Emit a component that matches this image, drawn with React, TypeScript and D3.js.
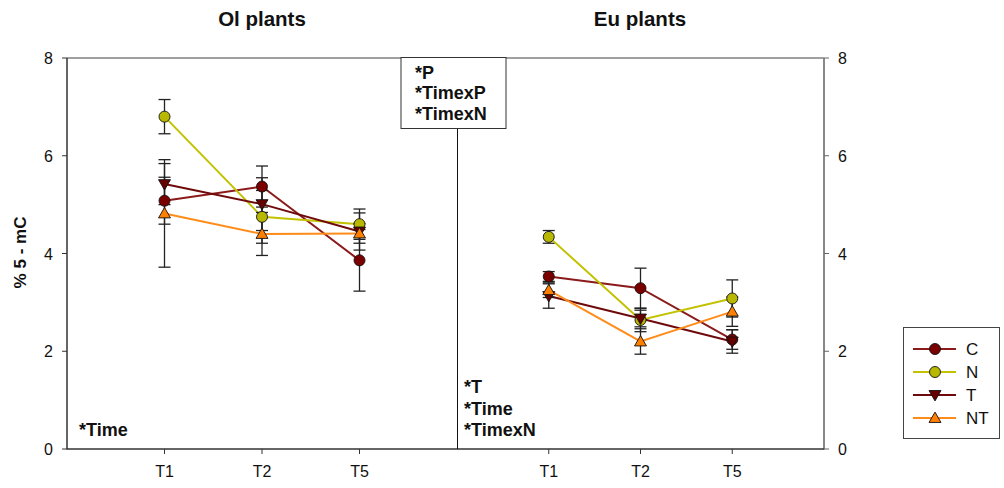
import React from "react";
import * as d3 from "d3";

const categories = ["T1", "T2", "T5"];
const seriesNames = ["C", "N", "T", "NT"];

// Ol plants
const olC = [5.08, 5.37, 3.86];
const olCErr = [0.48, 0.42, 0.63];
const olN = [6.8, 4.75, 4.6];
const olNErr = [0.35, 0.54, 0.31];
const olT = [5.42, 5.01, 4.45];
const olTErr = [0.42, 0.54, 0.38];
const olNT = [4.82, 4.4, 4.41];
const olNTErr = [1.1, 0.44, 0.2];

// Eu plants
const euC = [3.53, 3.29, 2.24];
const euCErr = [0.1, 0.41, 0.2];
const euN = [4.34, 2.64, 3.08];
const euNErr = [0.13, 0.24, 0.38];
const euT = [3.13, 2.67, 2.2];
const euTErr = [0.25, 0.17, 0.24];
const euNT = [3.25, 2.2, 2.81];
const euNTErr = [0.15, 0.26, 0.3];

const yTicks = [0, 2, 4, 6, 8];
const olAnnot = ["*Time"];
const euAnnot = ["*T", "*Time", "*TimexN"];
const boxAnnot = ["*P", "*TimexP", "*TimexN"];

const styles: Record<string, { fill: string; line: string; shape: string }> = {
  C: { fill: "#7a0000", line: "#8b1a1a", shape: "circle" },
  N: { fill: "#b8b800", line: "#c2c200", shape: "circle" },
  T: { fill: "#680000", line: "#6e0a0a", shape: "down" },
  NT: { fill: "#ff8000", line: "#ff8c1a", shape: "up" },
};

const FONT = "'Liberation Sans', Arial, sans-serif";

const y = d3.scaleLinear().domain([0, 8]).range([449, 58]);
const xL = d3.scaleLinear().domain([0, 4]).range([67, 457]);
const xR = d3.scaleLinear().domain([0, 4]).range([457, 824]);

function Marker({ cx, cy, shape, fill }: { cx: number; cy: number; shape: string; fill: string }) {
  if (shape === "circle") {
    return <circle cx={cx} cy={cy} r={5.5} fill={fill} stroke="#111" strokeWidth={0.9} />;
  }
  const p = d3.symbol().type(d3.symbolTriangle).size(62)()!;
  const rot = shape === "down" ? 180 : 0;
  return (
    <path d={p} transform={`translate(${cx},${cy + (shape === "down" ? -1 : 1)}) rotate(${rot})`} fill={fill} stroke="#111" strokeWidth={0.9} />
  );
}

function Panel({ x, data }: { x: d3.ScaleLinear<number, number>; data: Record<string, [number[], number[]]> }) {
  const pos = (i: number) => x(i + 1);
  const line = d3
    .line<number>()
    .x((_, i) => pos(i))
    .y((v) => y(v));
  return (
    <g>
      {seriesNames.map((s) => {
        const [vals, errs] = data[s];
        const st = styles[s];
        return (
          <g key={s}>
            {vals.map((v, i) => {
              const cx = pos(i);
              const t = y(v + errs[i]);
              const b = y(v - errs[i]);
              return (
                <g key={i} stroke="#222" strokeWidth={1.3}>
                  <line x1={cx} x2={cx} y1={t} y2={b} />
                  <line x1={cx - 6} x2={cx + 6} y1={t} y2={t} />
                  <line x1={cx - 6} x2={cx + 6} y1={b} y2={b} />
                </g>
              );
            })}
            <path d={line(vals)!} fill="none" stroke={st.line} strokeWidth={2} />
          </g>
        );
      })}
      {seriesNames.map((s) => {
        const [vals] = data[s];
        const st = styles[s];
        return (
          <g key={s + "m"}>
            {vals.map((v, i) => (
              <Marker key={i} cx={pos(i)} cy={y(v)} shape={st.shape} fill={st.fill} />
            ))}
          </g>
        );
      })}
      {categories.map((c, i) => (
        <g key={c}>
          <line x1={pos(i)} x2={pos(i)} y1={449} y2={454} stroke="#333" strokeWidth={1} />
          <text x={pos(i)} y={477} textAnchor="middle" fontSize={16} fill="#111">
            {c}
          </text>
        </g>
      ))}
    </g>
  );
}

export default function App() {
  const olData: Record<string, [number[], number[]]> = {
    C: [olC, olCErr],
    N: [olN, olNErr],
    T: [olT, olTErr],
    NT: [olNT, olNTErr],
  };
  const euData: Record<string, [number[], number[]]> = {
    C: [euC, euCErr],
    N: [euN, euNErr],
    T: [euT, euTErr],
    NT: [euNT, euNTErr],
  };
  const legendY = d3.scaleLinear().domain([0, 3]).range([349, 418]);
  return (
    <svg
      width={1004}
      height={488}
      style={{ position: "absolute", left: 0, top: 0, background: "#fff" }}
      fontFamily={FONT}
    >
      <rect width={1004} height={488} fill="#fff" />
      {/* titles */}
      <text x={262} y={26} textAnchor="middle" fontSize={20.5} fontWeight="bold" fill="#111">
        Ol plants
      </text>
      <text x={640} y={26} textAnchor="middle" fontSize={20.5} fontWeight="bold" fill="#111">
        Eu plants
      </text>

      {/* frame */}
      <line x1={67} x2={824} y1={58} y2={58} stroke="#808080" strokeWidth={1.5} />
      <line x1={67} x2={67} y1={58} y2={449.5} stroke="#333" strokeWidth={1.5} />
      <line x1={824} x2={824} y1={58} y2={449.5} stroke="#888" strokeWidth={2} />
      <line x1={67} x2={457} y1={449} y2={449} stroke="#333" strokeWidth={1.5} />
      <line x1={457} x2={824} y1={449} y2={449} stroke="#333" strokeWidth={1.5} />
      <line x1={457.5} x2={457.5} y1={58} y2={449} stroke="#111" strokeWidth={1} />

      {/* y ticks */}
      {yTicks.map((t) => (
        <g key={t}>
          <line x1={62} x2={67} y1={y(t)} y2={y(t)} stroke="#333" strokeWidth={1} />
          <text x={53} y={y(t) + 6} textAnchor="end" fontSize={16} fill="#111">
            {t}
          </text>
          <line x1={824} x2={829} y1={y(t)} y2={y(t)} stroke="#666" strokeWidth={1} />
          <text x={838} y={y(t) + 6} textAnchor="start" fontSize={16} fill="#111">
            {t}
          </text>
        </g>
      ))}
      <text
        transform={`translate(26,${y(4) - 1}) rotate(-90)`}
        textAnchor="middle"
        fontSize={17}
        fontWeight="bold"
        fill="#111"
      >
        % 5 - mC
      </text>

      <Panel x={xL} data={olData} />
      <Panel x={xR} data={euData} />

      {/* annotations */}
      {olAnnot.map((a, i) => (
        <text key={a} x={79} y={436 + i * 21} fontSize={18} fontWeight="bold" fill="#111">
          {a}
        </text>
      ))}
      {euAnnot.map((a, i) => (
        <text key={a} x={464} y={393 + i * 21.5} fontSize={18} fontWeight="bold" fill="#111">
          {a}
        </text>
      ))}
      <rect x={401} y={57.5} width={105} height={71} fill="#fff" stroke="#333" strokeWidth={1} />
      {boxAnnot.map((a, i) => (
        <text key={a} x={415} y={78.5 + i * 20.5} fontSize={18} fontWeight="bold" fill="#111">
          {a}
        </text>
      ))}

      {/* legend */}
      <rect x={903.5} y={327.5} width={96} height={111} fill="#fff" stroke="#444" strokeWidth={1} />
      {seriesNames.map((s, i) => {
        const st = styles[s];
        const ly = legendY(i);
        return (
          <g key={s}>
            <line x1={913} x2={956} y1={ly} y2={ly} stroke={st.line} strokeWidth={2} />
            <Marker cx={935} cy={ly} shape={st.shape} fill={st.fill} />
            <text x={966} y={ly + 6} fontSize={17} fill="#111">
              {s}
            </text>
          </g>
        );
      })}
    </svg>
  );
}
